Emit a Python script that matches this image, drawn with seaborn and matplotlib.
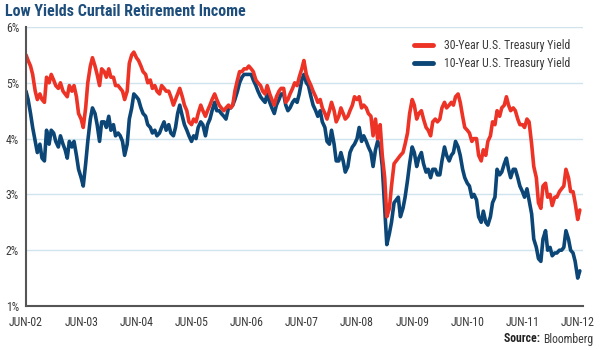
import matplotlib
matplotlib.use("Agg")
import matplotlib.pyplot as plt
from matplotlib import font_manager as fm
from matplotlib.lines import Line2D
import seaborn as sns
import pandas as pd

# ---------------- data (semi-monthly readings, Jun-2002 .. Jun-2012) ----------------
yield_30y = [
    # Jun02 - May03
    5.50, 5.40, 5.30, 5.15, 4.85, 4.70, 4.80, 4.70, 4.65, 5.10, 5.00, 5.15,
    5.05, 4.95, 4.90, 5.00, 4.85, 4.80, 4.75, 4.95, 4.85, 4.95, 4.75, 4.45,
    # Jun03 - May04
    4.35, 4.20, 4.55, 5.00, 5.30, 5.45, 5.30, 5.15, 4.95, 5.25, 5.20, 5.10,
    5.25, 5.10, 5.10, 4.95, 4.95, 4.90, 4.85, 4.70, 4.85, 5.35, 5.50, 5.55,
    # Jun04 - May05
    5.45, 5.40, 5.30, 5.20, 5.15, 5.00, 5.05, 4.90, 4.95, 4.85, 4.80, 4.95,
    4.90, 4.85, 4.85, 4.75, 4.60, 4.70, 4.80, 4.90, 4.75, 4.60, 4.50, 4.30,
    # Jun05 - May06
    4.25, 4.35, 4.30, 4.45, 4.60, 4.50, 4.40, 4.50, 4.60, 4.70, 4.80, 4.70,
    4.60, 4.55, 4.50, 4.55, 4.60, 4.55, 4.60, 4.85, 5.05, 5.20, 5.20, 5.25,
    # Jun06 - May07
    5.25, 5.30, 5.25, 5.20, 5.05, 5.00, 4.95, 4.85, 4.80, 4.95, 4.80, 4.70,
    4.60, 4.75, 4.85, 4.90, 4.90, 4.65, 4.70, 4.80, 4.90, 5.00, 4.95, 5.10,
    # Jun07 - May08
    5.25, 5.40, 5.15, 5.05, 4.95, 4.85, 4.75, 4.65, 4.70, 4.55, 4.45, 4.35,
    4.50, 4.65, 4.50, 4.30, 4.40, 4.55, 4.45, 4.35, 4.40, 4.50, 4.60, 4.75,
    # Jun08 - May09
    4.70, 4.75, 4.55, 4.60, 4.55, 4.45, 4.40, 4.05, 4.35, 4.00, 4.25, 3.70,
    3.30, 2.60, 2.75, 3.15, 3.55, 3.60, 3.65, 3.70, 3.75, 3.90, 4.10, 4.45,
    # Jun09 - May10
    4.70, 4.60, 4.35, 4.45, 4.50, 4.35, 4.20, 4.15, 4.05, 4.30, 4.35, 4.30,
    4.35, 4.55, 4.65, 4.55, 4.60, 4.65, 4.60, 4.75, 4.80, 4.65, 4.40, 4.20,
    # Jun10 - May11
    4.15, 4.10, 3.95, 4.00, 4.00, 3.70, 3.60, 3.80, 3.70, 3.95, 4.05, 4.30,
    4.25, 4.50, 4.40, 4.55, 4.60, 4.75, 4.60, 4.50, 4.55, 4.50, 4.35, 4.25,
    # Jun11 - Jun12
    4.25, 4.20, 4.35, 4.30, 3.90, 3.50, 3.30, 2.85, 2.75, 3.15, 3.20, 2.95,
    3.00, 2.80, 2.95, 2.95, 3.05, 3.10, 3.15, 3.45, 3.30, 3.05, 3.05, 2.85,
    2.55, 2.72,
]

yield_10y = [
    # Jun02 - May03
    4.85, 4.70, 4.45, 4.20, 3.95, 3.75, 3.90, 3.65, 3.60, 4.15, 3.90, 4.15,
    4.10, 3.95, 3.85, 4.05, 3.90, 3.80, 3.65, 3.95, 3.85, 3.95, 3.70, 3.45,
    # Jun03 - May04
    3.30, 3.15, 3.55, 3.95, 4.35, 4.55, 4.45, 4.25, 3.95, 4.30, 4.30, 4.20,
    4.40, 4.15, 4.25, 4.05, 4.10, 4.05, 3.95, 3.70, 3.90, 4.35, 4.55, 4.80,
    # Jun04 - May05
    4.75, 4.70, 4.55, 4.45, 4.40, 4.25, 4.20, 4.10, 4.15, 4.05, 4.10, 4.20,
    4.30, 4.15, 4.25, 4.10, 4.05, 4.20, 4.45, 4.60, 4.40, 4.25, 4.15, 4.05,
    # Jun05 - May06
    3.95, 4.05, 4.00, 4.20, 4.30, 4.25, 4.05, 4.25, 4.35, 4.50, 4.65, 4.50,
    4.50, 4.45, 4.40, 4.35, 4.55, 4.55, 4.60, 4.70, 4.85, 5.00, 5.10, 5.15,
    # Jun06 - May07
    5.15, 5.15, 5.15, 5.05, 4.95, 4.85, 4.75, 4.70, 4.65, 4.80, 4.65, 4.55,
    4.45, 4.60, 4.70, 4.80, 4.80, 4.60, 4.50, 4.55, 4.65, 4.70, 4.65, 4.80,
    # Jun07 - May08
    5.05, 5.15, 5.00, 4.95, 4.75, 4.60, 4.50, 4.40, 4.50, 4.30, 4.20, 3.95,
    3.90, 4.15, 3.90, 3.60, 3.60, 3.75, 3.60, 3.40, 3.50, 3.75, 3.85, 3.90,
    # Jun08 - May09
    4.00, 4.20, 3.95, 4.05, 3.95, 3.85, 3.75, 3.50, 3.80, 3.95, 3.85, 3.50,
    2.75, 2.10, 2.30, 2.50, 2.85, 2.90, 2.95, 2.60, 2.75, 2.95, 3.25, 3.55,
    # Jun09 - May10
    3.85, 3.75, 3.50, 3.65, 3.75, 3.55, 3.40, 3.45, 3.30, 3.45, 3.45, 3.35,
    3.35, 3.60, 3.85, 3.70, 3.60, 3.70, 3.75, 3.95, 3.85, 3.70, 3.45, 3.30,
    # Jun10 - May11
    3.20, 3.15, 2.95, 3.00, 2.90, 2.60, 2.50, 2.70, 2.50, 2.45, 2.60, 2.85,
    2.95, 3.45, 3.35, 3.40, 3.55, 3.65, 3.45, 3.30, 3.45, 3.45, 3.30, 3.15,
    # Jun11 - Jun12
    3.05, 2.95, 3.10, 2.90, 2.65, 2.20, 2.05, 1.85, 1.80, 2.20, 2.35, 2.00,
    2.05, 1.90, 1.95, 1.95, 2.00, 2.00, 2.05, 2.35, 2.20, 2.00, 1.95, 1.80,
    1.50, 1.63,
]

start_date = "2002-06-01"
series_names = ["30-Year U.S. Treasury Yield", "10-Year U.S. Treasury Yield"]
tick_years = list(range(2002, 2013))
tick_labels = [f"JUN-{y % 100:02d}" for y in tick_years]
ytick_values = [1, 2, 3, 4, 5, 6]
ytick_labels = [f"{v}%" for v in ytick_values]
title_text = "Low Yields Curtail Retirement Income"

# ---------------- styling ----------------
sns.set_theme(style="white")
names = {f.name for f in fm.fontManager.ttflist}
cond = None
for cand in ["Liberation Sans Narrow", "Roboto Condensed", "Open Sans Condensed"]:
    if cand in names:
        cond = cand
        break
stretch = "normal"
if cond is None:
    cond = "DejaVu Sans"
    stretch = "condensed"
plt.rcParams["font.family"] = [cond, "DejaVu Sans"]
plt.rcParams["font.stretch"] = stretch

RED = "#EC3326"
BLUE = "#0B4677"
GRID = "#CFE4EC"
AXC = "#555555"
TXT = "#3A3A3A"

dates = pd.date_range(start_date, periods=len(yield_30y), freq="SMS")
df = pd.DataFrame({
    "date": list(dates) * 2,
    "value": yield_10y + yield_30y,
    "series": [series_names[1]] * len(dates) + [series_names[0]] * len(dates),
})

fig = plt.figure(figsize=(6, 3.5), dpi=100)
ax = fig.add_axes([26 / 600, 44 / 350, 557 / 600, 279 / 350])

sns.lineplot(data=df, x="date", y="value", hue="series",
             hue_order=[series_names[1], series_names[0]],
             palette={series_names[0]: RED, series_names[1]: BLUE},
             linewidth=2.6, ax=ax, legend=False, estimator=None)

ax.set_ylim(1, 6)
ax.set_xlim(pd.Timestamp("2002-06-01"), pd.Timestamp("2012-07-06"))
ax.set_yticks(ytick_values)
ax.set_yticklabels(ytick_labels)
ax.set_xticks([pd.Timestamp(f"{y}-06-01") for y in tick_years])
ax.set_xticklabels(tick_labels)
ax.set_xlabel("")
ax.set_ylabel("")

ax.yaxis.grid(True, color=GRID, linewidth=1.0)
ax.xaxis.grid(False)
ax.set_axisbelow(True)
for s in ["top", "right"]:
    ax.spines[s].set_visible(False)
for s in ["left", "bottom"]:
    ax.spines[s].set_color(AXC)
    ax.spines[s].set_linewidth(1.5)
ax.tick_params(axis="both", which="both", direction="out", length=3, width=1.2,
               color=AXC, labelsize=8.5, labelcolor=TXT)
ax.tick_params(axis="x", pad=4)
ax.tick_params(axis="y", pad=2)

handles = [Line2D([0], [0], color=RED, lw=3.5), Line2D([0], [0], color=BLUE, lw=3.5)]
leg = ax.legend(handles, series_names, loc="upper right", bbox_to_anchor=(0.985, 0.975),
                frameon=False, fontsize=8.5, handlelength=1.6, handletextpad=0.9,
                labelspacing=0.45, borderaxespad=0)
for t in leg.get_texts():
    t.set_color(TXT)

fig.text(5 / 600, 1 - 12 / 350, title_text, fontsize=11.5, fontweight="bold",
         color="#1E4E7C", va="center", ha="left")
src_y = 1 - 339 / 350
bl = fig.text(593 / 600, src_y, "Bloomberg", fontsize=8.5, color=TXT,
              ha="right", va="center")
src = fig.text(0, src_y, "Source: ", fontsize=8.5, fontweight="bold",
               color="#222222", va="center")
fig.canvas.draw()
r = fig.canvas.get_renderer()
bb = bl.get_window_extent(r)
sw = src.get_window_extent(r).width
src.set_position(((bb.x0 - sw) / 600, src_y))

fig.savefig("out.png", dpi=100)
